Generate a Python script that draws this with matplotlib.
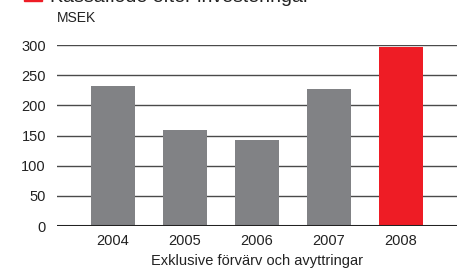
import matplotlib
matplotlib.use("Agg")
import matplotlib.pyplot as plt
import numpy as np

plt.rcParams['font.family'] = ['Liberation Sans Narrow', 'Liberation Sans', 'DejaVu Sans']

# -------------------------------------------------------------
# Data
# -------------------------------------------------------------
years = ['2004', '2005', '2006', '2007', '2008']
values = [232, 159, 143, 227, 297]
colors = ['#818285', '#818285', '#818285', '#818285', '#ee1c25']
yticks = [0, 50, 100, 150, 200, 250, 300]

W, H = 459, 271
fig = plt.figure(figsize=(W / 100, H / 100), dpi=100)
ax = fig.add_axes([57 / W, (H - 226) / H, 400 / W, 181 / H])

x = np.arange(len(years))
ax.bar(x, values, width=0.61, color=colors, zorder=3)

for t in yticks[1:]:
    ax.axhline(t, color='#4a4a4a', lw=1.0, zorder=1)
ax.axhline(0, color='#222222', lw=2.2, zorder=4)

ax.set_xlim(-0.78, 4.78)
ax.set_ylim(0, 300)
ax.set_yticks(yticks)
ax.set_xticks(x)
ax.set_xticklabels(years)
ax.tick_params(length=0, labelsize=10.5, colors='#222222')
ax.tick_params(axis='y', pad=8)
ax.tick_params(axis='x', pad=6)
for s in ax.spines.values():
    s.set_visible(False)
ax.set_xlabel('Exklusive förvärv och avyttringar', fontsize=10.5, color='#222222', labelpad=4)

fig.text(57 / W, 1 - 18 / H, 'MSEK', fontsize=10, color='#222222', va='center', ha='left')

# title (cut off at the top in the reference)
fig.patches.append(plt.Rectangle((24 / W, 1 - 0.5 / H), 18 / W, 14 / H,
                                 transform=fig.transFigure, color='#ee1c25'))
fig.text(50 / W, 1 - 1.5 / H, 'Kassaflöde efter investeringar', fontsize=14,
         color='#222222', va='baseline', ha='left')

fig.savefig('out.png', dpi=100)
